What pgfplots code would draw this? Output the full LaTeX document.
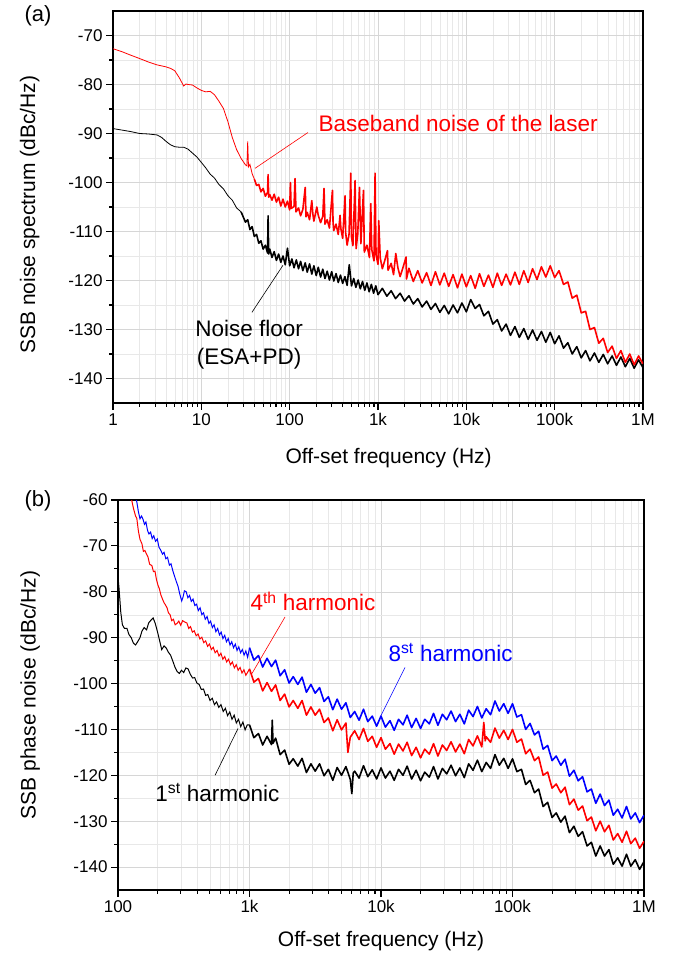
\documentclass[border=0pt]{standalone}
\usepackage{fontspec}
\setmainfont{Liberation Sans}
\usepackage{pgfplots}
\pgfplotsset{compat=1.18}

\pgfplotsset{
  every axis/.append style={
    xmode=log, scale only axis,
    tick align=outside, tick pos=left,
    major tick length=7pt, minor tick length=4pt,
    every tick/.style={black, line width=1.1pt},
    axis line style={line width=1.5pt},
    grid=both,
    major grid style={black!16, line width=0.5pt},
    minor grid style={black!9, line width=0.4pt},
    minor y tick num=1,
    tick label style={font=\fontsize{17}{19}\selectfont},
    label style={font=\fontsize{21}{24}\selectfont},
  },
  every axis plot/.append style={line width=0.8pt},
}
\tikzset{
  ann/.style={font=\fontsize{22.5}{28}\selectfont},
  noisy/.style={line width=1.6pt, line join=round},
}

\begin{document}
\begin{tikzpicture}
\useasboundingbox (0pt,0pt) rectangle (688pt,961pt);

% ---------- (a) baseband noise ----------
\begin{axis}[
  at={(113pt,558pt)}, anchor=south west,
  width=530pt, height=392pt,
  xmin=1, xmax=1000000, ymin=-145, ymax=-65,
  xtick={1,10,100,1000,10000,100000,1000000},
  xticklabels={1,10,100,1k,10k,100k,1M},
  minor xtick={2,3,4,5,6,7,8,9,20,30,40,50,60,70,80,90,200,300,400,500,600,700,800,900,
    2000,3000,4000,5000,6000,7000,8000,9000,20000,30000,40000,50000,60000,70000,80000,90000,
    200000,300000,400000,500000,600000,700000,800000,900000},
  ytick={-140,-130,-120,-110,-100,-90,-80,-70},
  yticklabels={-140,-130,-120,-110,-100,-90,-80,-70},
  xlabel={Off-set frequency (Hz)},
  ylabel={SSB noise spectrum (dBc/Hz)},
  xlabel style={at={(axis description cs:0.52,-0.14)}, anchor=center},
  ylabel style={at={(axis description cs:-0.157,0.48)}, anchor=center},
]
% noise floor (ESA+PD), smooth low-frequency part
\addplot[black] coordinates {
(1,-89.0)(1.26,-89.3)(1.58,-89.6)(2,-90.0)(2.51,-90.1)(3.16,-90.3)(3.55,-90.8)(3.98,-91.6)
(4.47,-92.3)(5.01,-92.7)(5.62,-92.8)(6.31,-92.8)(7.08,-93.2)(7.94,-94.0)(8.91,-94.8)(10,-95.9)
(11.2,-97.0)(12.6,-98.3)(14.1,-99.1)(15.8,-100.4)(17.8,-101.3)(20,-102.7)(22.4,-103.6)(25.1,-105.2)
(28.2,-106.0)
};
% noise floor, noisy part
\addplot[black, noisy] coordinates {
(28.2,-106.0)(31.6,-108.1)(33.5,-107.6)(35.5,-109.6)(37.6,-109.0)(39.8,-111.0)(42.2,-110.6)(44.7,-112.4)
(47.3,-111.9)(50.1,-113.6)(53.1,-112.8)(56.2,-114.4)(57.0,-106.8)(57.9,-114.6)(59.6,-113.6)(63.1,-115.3)
(66.8,-114.1)(70.8,-115.9)(75.0,-114.6)(79.4,-116.3)(84.1,-115.0)(89.1,-116.8)(94.4,-113.4)(100,-117.0)
(106,-115.6)(112,-117.4)(119,-115.8)(126,-117.6)(133,-116.1)(141,-118.0)(150,-116.4)(158,-118.3)
(168,-116.6)(178,-118.7)(188,-117.0)(200,-119.0)(211,-117.3)(224,-119.3)(237,-117.7)(251,-119.6)
(266,-118.1)(282,-119.9)(299,-118.2)(316,-120.1)(335,-118.6)(355,-120.4)(376,-118.9)(398,-120.6)
(422,-119.2)(447,-121.0)(473,-116.8)(501,-121.1)(531,-119.6)(562,-121.4)(596,-119.9)(631,-121.7)
(668,-120.2)(708,-122.0)(750,-120.5)(794,-122.3)(841,-120.8)(891,-122.6)(944,-121.1)(1000,-122.9)
(1120,-121.6)(1260,-123.2)(1410,-122.1)(1580,-123.7)(1780,-122.6)(2000,-124.2)(2240,-123.1)(2510,-124.8)
(2820,-123.7)(3160,-125.4)(3550,-124.2)(3980,-125.9)(4470,-124.7)(5010,-126.5)(5620,-125.1)(6310,-126.8)
(7080,-125.0)(7940,-126.6)(8910,-124.6)(10000,-126.4)(11200,-123.9)(12600,-125.7)(14100,-124.9)(15800,-127.2)
(17800,-126.3)(20000,-128.9)(22400,-128.0)(25100,-130.3)(28200,-128.9)(31600,-131.2)(35500,-129.4)(39800,-131.6)
(44700,-129.8)(50100,-132.0)(56200,-130.1)(63100,-132.2)(70800,-130.4)(79400,-132.6)(89100,-130.6)(100000,-132.9)
(112000,-131.3)(126000,-133.8)(141000,-132.7)(158000,-135.0)(178000,-133.5)(200000,-135.8)(224000,-134.3)(251000,-136.4)
(282000,-134.8)(316000,-136.7)(355000,-135.1)(398000,-137.0)(447000,-135.4)(501000,-137.3)(562000,-135.6)(631000,-137.6)
(708000,-135.9)(794000,-137.9)(891000,-136.2)(1000000,-137.8)
};
% baseband noise of the laser, smooth part
\addplot[red] coordinates {
(1,-72.7)(1.26,-73.3)(1.58,-74.0)(2,-74.7)(2.51,-75.4)(3.16,-76.0)(3.98,-76.4)(4.47,-76.7)
(5.01,-77.2)(5.62,-78.6)(6.31,-80.3)(6.7,-79.9)(7.08,-80.0)(7.94,-80.1)(8.91,-80.7)(10,-81.2)
(11.2,-81.5)(12.6,-81.4)(14.1,-82.1)(15.8,-83.4)(17.8,-84.9)(20,-87.6)(22.4,-90.8)(25.1,-93.3)
(28.2,-95.1)(31.6,-96.4)(32.8,-96.6)(33.5,-91.6)(34.2,-96.8)(35.5,-96.3)(37.6,-98.2)(39.8,-99.3)
};
% baseband noise of the laser, noisy part
\addplot[red, noisy] coordinates {
(39.8,-99.3)
(42.2,-100.6)(44.7,-100.4)(47.3,-101.9)(50.1,-101.2)(53.1,-102.8)(56.2,-102.0)(57.0,-98.4)(57.9,-103.0)
(59.6,-102.5)(63.1,-103.6)(66.8,-102.4)(70.8,-104.0)(75.0,-103.0)(79.4,-104.8)(84.1,-103.4)(89.1,-105.0)
(94.4,-103.8)(100,-105.6)(102,-100.0)(104,-105.3)(112,-104.9)(115,-99.2)(118,-106.0)(126,-105.2)
(133,-106.8)(141,-105.5)(150,-101.0)(153,-107.0)(158,-106.1)(168,-107.6)(178,-103.7)(183,-106.4)
(188,-107.9)(203,-105.0)(210,-106.6)(224,-108.2)(237,-106.9)(245,-101.2)(251,-108.5)(266,-107.6)
(282,-109.3)(305,-101.6)(310,-108.2)(316,-109.8)(335,-108.5)(355,-110.6)(372,-106.7)(380,-109.4)
(398,-111.4)(424,-102.7)(430,-110.2)(447,-112.8)(470,-110.6)(492,-98.1)(500,-111.0)(520,-112.9)
(550,-99.6)(565,-113.5)(590,-110.5)(617,-101.0)(640,-112.5)(685,-101.6)(700,-114.2)(750,-112.8)
(800,-115.3)(828,-104.3)(850,-113.7)(900,-116.0)(927,-98.1)(950,-114.8)(1000,-116.7)(1020,-107.8)
(1060,-115.4)(1120,-117.6)(1190,-116.0)(1280,-113.9)(1300,-117.9)(1410,-116.5)(1500,-118.8)(1590,-114.5)
(1680,-117.4)(1780,-119.2)(1900,-117.6)(2080,-115.2)(2100,-119.7)(2240,-117.5)(2510,-120.2)(2820,-118.0)
(3160,-120.5)(3550,-118.4)(3980,-121.0)(4470,-118.2)(5010,-120.9)(5620,-118.5)(6310,-121.2)(7080,-118.8)
(7940,-121.5)(8910,-118.7)(10000,-121.3)(11200,-119.0)(12600,-121.6)(14100,-118.6)(15800,-121.2)(17800,-118.9)
(20000,-121.4)(22400,-118.5)(25100,-121.0)(28200,-118.7)(31600,-120.9)(35500,-118.3)(39800,-120.8)(44700,-118.0)
(50100,-120.4)(56200,-117.6)(63100,-119.8)(70800,-117.2)(79400,-119.3)(89100,-117.0)(100000,-119.4)(112000,-118.0)
(126000,-120.8)(141000,-120.3)(158000,-123.6)(178000,-123.0)(200000,-126.6)(224000,-126.3)(251000,-130.0)(282000,-129.6)
(316000,-132.8)(355000,-131.8)(398000,-134.7)(447000,-133.4)(501000,-135.9)(562000,-134.3)(631000,-136.7)(708000,-135.0)
(794000,-137.2)(891000,-135.4)(1000000,-137.0)
};
\node[ann, text=red, anchor=west] at (axis cs:194,-88) {Baseband noise of the laser};
\draw[red, line width=0.6pt] (axis cs:40.6,-97.1) -- (axis cs:161,-89.8);
\node[ann, align=center, anchor=center] at (axis cs:34.7,-133.1) {Noise floor\\(ESA+PD)};
\draw[black, line width=0.6pt] (axis cs:37.4,-126.5) -- (axis cs:84,-116.9);
\end{axis}

% ---------- (b) harmonics ----------
\begin{axis}[
  at={(118pt,71pt)}, anchor=south west,
  width=526pt, height=390pt,
  xmin=100, xmax=1000000, ymin=-145, ymax=-60,
  xtick={100,1000,10000,100000,1000000},
  xticklabels={100,1k,10k,100k,1M},
  minor xtick={200,300,400,500,600,700,800,900,
    2000,3000,4000,5000,6000,7000,8000,9000,20000,30000,40000,50000,60000,70000,80000,90000,
    200000,300000,400000,500000,600000,700000,800000,900000},
  ytick={-140,-130,-120,-110,-100,-90,-80,-70,-60},
  yticklabels={-140,-130,-120,-110,-100,-90,-80,-70,-60},
  xlabel={Off-set frequency (Hz)},
  ylabel={SSB phase noise (dBc/Hz)},
  xlabel style={at={(axis description cs:0.5,-0.131)}, anchor=center},
  ylabel style={at={(axis description cs:-0.167,0.5)}, anchor=center},
]
% 1st harmonic, below 1 kHz
\addplot[black, line width=1.0pt] coordinates {
(100,-76.8)(102,-79.5)(105,-84.5)(108,-87.2)(112,-88.0)(117,-88.0)(121,-89.3)(126,-90.0)
(131,-91.2)(136,-91.6)(141,-90.9)(147,-90.0)(152,-88.6)(158,-87.8)(165,-88.3)(171,-86.8)
(178,-86.2)(185,-85.7)(192,-86.9)(200,-88.8)(207,-90.6)(215,-92.6)(224,-91.8)(233,-92.3)
(242,-93.2)(251,-93.8)(261,-95.1)(271,-96.4)(282,-97.4)(293,-97.8)(304,-97.1)(316,-97.6)
(328,-96.6)(341,-96.8)(355,-98.0)(369,-98.8)(383,-98.7)(398,-99.9)(414,-100.2)(430,-101.3)
(447,-101.2)(464,-102.6)(482,-102.4)(501,-103.7)(521,-103.2)(541,-104.6)(562,-104.0)(584,-105.2)
(607,-104.6)(631,-106.1)(656,-105.4)(681,-107.0)(708,-106.2)(736,-107.8)(765,-106.9)(794,-108.6)
(825,-107.8)(858,-109.4)(891,-108.4)(926,-110.1)(962,-109.0)(1000,-109.0)
};
% 1st harmonic, above 1 kHz
\addplot[black, noisy] coordinates {
(1000,-109.0)(1080,-111.8)(1170,-110.9)(1260,-113.4)(1360,-111.5)(1470,-113.3)(1490,-108.0)(1510,-113.0)
(1580,-111.9)(1710,-115.5)(1850,-114.5)(2000,-117.6)(2150,-116.4)(2330,-118.0)(2510,-116.3)(2710,-119.4)
(2930,-117.5)(3160,-119.1)(3410,-117.5)(3690,-120.1)(3980,-118.7)(4300,-121.1)(4640,-118.3)(5010,-120.0)
(5410,-118.1)(5840,-120.9)(6000,-124.0)(6150,-119.5)(6310,-119.1)(6810,-120.6)(7360,-117.9)(7940,-120.3)
(8580,-118.8)(9260,-120.8)
(10000,-118.4)(10800,-120.6)(11700,-119.1)(12600,-121.1)(13600,-118.7)(14700,-120.0)(15800,-118.0)(17100,-120.8)
(18500,-118.9)(20000,-121.2)(21500,-119.3)(23300,-120.4)(25100,-118.1)(27100,-120.8)(29300,-118.5)(31600,-119.7)
(34100,-117.8)(36900,-120.1)(39800,-118.4)(43000,-120.5)(46400,-117.5)(50100,-118.9)(54100,-116.7)(58400,-119.2)
(63100,-117.2)(68100,-118.5)(73600,-115.5)(79400,-117.8)(85800,-116.3)(92600,-118.5)
(100000,-116.4)(108000,-119.2)(117000,-118.7)(126000,-122.0)(136000,-121.1)(147000,-123.8)(158000,-123.0)(171000,-126.8)
(185000,-125.9)(200000,-129.2)(215000,-128.2)(233000,-130.2)(251000,-128.9)(271000,-132.5)(293000,-131.1)(316000,-133.3)
(341000,-132.3)(369000,-135.4)(398000,-134.6)(430000,-137.6)(464000,-135.4)(501000,-137.6)(541000,-136.2)(584000,-139.4)
(631000,-138.0)(681000,-139.8)(736000,-137.2)(794000,-139.8)(858000,-138.4)(926000,-140.5)(1000000,-138.8)
};
% 4th harmonic, below 1 kHz
\addplot[red, line width=1.0pt] coordinates {
(126,-59.5)(131,-61.8)(136,-63.5)(139,-64.0)(143,-66.8)(147,-68.6)(152,-69.5)(156,-71.2)
(160,-71.0)(165,-71.8)(169,-72.4)(174,-74.0)(181,-74.3)(186,-75.6)(191,-75.5)(196,-77.3)
(201,-78.5)(206,-79.3)(212,-80.7)(218,-81.6)(224,-82.4)(230,-82.9)(236,-83.5)(242,-84.6)
(249,-85.0)(256,-86.3)(264,-86.0)(272,-87.2)(281,-86.9)(290,-86.4)(300,-87.3)(310,-86.3)
(322,-86.6)(334,-86.8)(345,-88.0)(356,-87.6)(368,-88.8)(380,-88.5)(393,-89.6)(406,-89.2)
(420,-90.3)(434,-89.9)(449,-91.1)(464,-90.7)(480,-91.9)(496,-91.4)(513,-92.6)(530,-92.1)
(548,-93.3)(567,-92.8)(586,-94.0)(606,-93.4)(627,-94.7)(648,-94.1)(670,-95.3)(693,-94.7)
(717,-95.9)(741,-95.3)(767,-96.6)(793,-95.9)(820,-97.1)(848,-96.5)(877,-97.7)(907,-97.0)
(938,-98.2)(970,-97.5)(1000,-96.8)
};
% 4th harmonic, above 1 kHz
\addplot[red, noisy] coordinates {
(1000,-96.8)(1080,-99.7)(1170,-98.9)(1260,-101.6)(1360,-99.8)(1470,-101.7)(1580,-100.3)(1710,-103.7)
(1850,-102.3)(2000,-105.1)(2150,-103.7)(2330,-105.4)(2510,-103.7)(2710,-106.9)(2930,-105.1)(3160,-106.9)
(3410,-105.6)(3690,-108.5)(3980,-107.5)(4300,-110.3)(4640,-107.9)(5010,-110.1)(5410,-108.6)(5600,-115.0)
(5840,-111.7)(6310,-110.3)(6810,-112.2)(7360,-109.8)(7940,-112.6)(8580,-111.5)(9260,-113.9)
(10000,-111.8)(10800,-114.3)(11700,-113.1)(12600,-115.4)(13600,-113.2)(14700,-114.7)(15800,-112.8)(17100,-115.7)
(18500,-113.9)(20000,-116.2)(21500,-114.3)(23300,-115.4)(25100,-113.1)(27100,-115.8)(29300,-113.4)(31600,-114.6)
(34100,-112.7)(36900,-114.9)(39800,-113.2)(43000,-115.3)(46400,-112.2)(50100,-113.6)(54100,-111.4)(58400,-113.8)
(60500,-108.5)(62000,-112.5)(63100,-111.6)(68100,-112.8)(73600,-109.7)(79400,-111.9)(85800,-110.2)(92600,-112.2)
(100000,-110.0)(108000,-112.8)(117000,-112.1)(126000,-115.3)(136000,-114.3)(147000,-116.8)(158000,-116.0)(171000,-120.0)
(185000,-119.3)(200000,-122.8)(215000,-121.9)(233000,-123.8)(251000,-122.6)(271000,-126.4)(293000,-125.2)(316000,-127.6)
(341000,-126.7)(369000,-129.9)(398000,-129.1)(430000,-132.1)(464000,-130.0)(501000,-132.3)(541000,-130.9)(584000,-134.1)
(631000,-132.7)(681000,-134.6)(736000,-132.2)(794000,-134.9)(858000,-133.7)(926000,-135.9)(1000000,-134.4)
};
% 8th harmonic, below 1 kHz
\addplot[blue, line width=1.0pt] coordinates {
(136,-59.3)(139,-60.4)(143,-62.6)(147,-64.1)(151,-63.5)(155,-64.2)(159,-65.3)(163,-64.8)
(168,-66.7)(172,-67.4)(177,-67.0)(182,-68.4)(187,-67.8)(193,-69.0)(199,-68.5)(205,-70.3)
(211,-70.9)(218,-71.8)(224,-71.4)(231,-72.8)(238,-72.5)(246,-74.2)(253,-73.9)(261,-75.4)
(269,-76.6)(277,-77.7)(286,-78.8)(295,-80.5)(305,-82.0)(312,-81.2)(320,-79.8)(330,-80.0)
(340,-81.3)(350,-80.8)(361,-82.1)(372,-81.6)(384,-83.0)(396,-82.7)(408,-84.1)(421,-83.5)
(434,-85.0)(447,-84.6)(461,-86.0)(476,-85.4)(491,-86.9)(506,-86.4)(522,-87.8)(538,-87.2)
(555,-88.7)(573,-88.0)(591,-89.4)(609,-88.8)(628,-90.2)(648,-89.5)(668,-90.9)(689,-90.2)
(711,-91.6)(733,-90.9)(756,-92.2)(780,-91.4)(804,-92.8)(829,-92.0)(855,-93.3)(882,-92.6)
(910,-93.8)(938,-92.9)(968,-94.3)(1000,-92.2)
};
% 8th harmonic, above 1 kHz
\addplot[blue, noisy] coordinates {
(1000,-92.2)(1080,-94.9)(1170,-93.9)(1260,-96.4)(1360,-94.5)(1470,-96.3)(1580,-94.9)(1710,-98.3)
(1850,-97.0)(2000,-99.9)(2150,-98.5)(2330,-100.2)(2510,-98.6)(2710,-101.9)(2930,-100.2)(3160,-102.1)
(3410,-100.9)(3690,-103.9)(3980,-102.9)(4300,-105.7)(4640,-103.4)(5010,-105.6)(5410,-104.2)(5840,-107.4)
(6310,-106.1)(6810,-108.0)(7360,-105.6)(7940,-108.3)(8580,-107.1)(9260,-109.3)
(10000,-107.1)(10800,-109.5)(11700,-108.1)(12600,-110.2)(13600,-107.8)(14700,-109.0)(15800,-106.9)(17100,-109.6)
(18500,-107.6)(20000,-109.8)(21500,-107.8)(23300,-108.8)(25100,-106.5)(27100,-109.1)(29300,-106.7)(31600,-107.9)
(34100,-106.0)(36900,-108.3)(39800,-106.7)(43000,-108.8)(46400,-105.8)(50100,-107.2)(54100,-105.0)(58400,-107.5)
(63100,-105.5)(68100,-106.8)(73600,-103.8)(79400,-106.0)(85800,-104.4)(92600,-106.5)
(100000,-104.4)(108000,-107.3)(117000,-106.8)(126000,-110.0)(136000,-108.7)(147000,-111.2)(158000,-110.4)(171000,-114.3)
(185000,-113.5)(200000,-116.8)(215000,-115.8)(233000,-117.8)(251000,-116.5)(271000,-120.2)(293000,-118.9)(316000,-121.2)
(341000,-120.3)(369000,-123.6)(398000,-123.0)(430000,-126.1)(464000,-124.1)(501000,-126.6)(541000,-125.4)(584000,-128.7)
(631000,-127.4)(681000,-129.3)(736000,-126.8)(794000,-129.5)(858000,-128.2)(926000,-130.3)(1000000,-128.7)
};
\node[ann, text=red, anchor=west] at (axis cs:957,-82.1) {4\textsuperscript{th} harmonic};
\draw[red, line width=0.6pt] (axis cs:1862,-85.5) -- (axis cs:1045,-97.8);
\node[ann, text=blue, anchor=west] at (axis cs:10720,-93.2) {8\textsuperscript{st} harmonic};
\draw[blue, line width=0.6pt] (axis cs:15230,-96.5) -- (axis cs:9830,-107.4);
\node[ann, anchor=west] at (axis cs:181,-123.8) {1\textsuperscript{st} harmonic};
\draw[black, line width=0.6pt] (axis cs:818,-109.8) -- (axis cs:547,-120);
\end{axis}

\node[font=\fontsize{22}{26}\selectfont] at (38pt,945pt) {(a)};
\node[font=\fontsize{22}{26}\selectfont] at (38pt,460pt) {(b)};
\end{tikzpicture}
\end{document}
